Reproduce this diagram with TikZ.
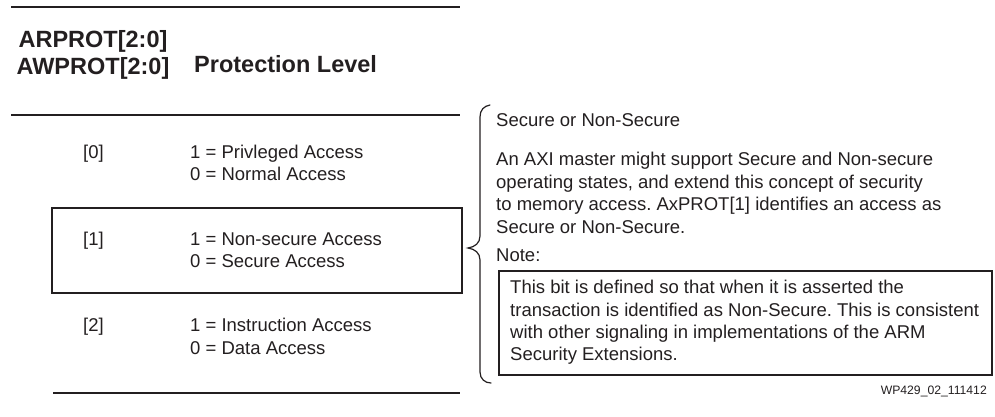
\documentclass[tikz,border=0pt]{standalone}
\usepackage{fontspec}
\setmainfont{Liberation Sans}
\definecolor{ink}{HTML}{231F20}
\begin{document}
\frenchspacing
\begin{tikzpicture}[x=1pt,y=-1pt,
  every node/.style={text=ink, inner sep=0pt},
  head/.style={font=\fontsize{23.5}{27}\selectfont\bfseries, anchor=base},
  headw/.style={font=\fontsize{23.5}{27}\selectfont\bfseries, anchor=base west},
  body/.style={font=\fontsize{18.5}{22}\selectfont, anchor=base west},
  figtag/.style={font=\fontsize{12.2}{14}\selectfont, anchor=base east},
  heavyrule/.style={draw=ink, line width=2.6pt},
  rowframe/.style={draw=ink, line width=2pt},
  noteframe/.style={draw=ink, line width=1.2pt},
  bracket/.style={draw=ink, line width=1.2pt, line cap=round}]
\useasboundingbox (0,0) rectangle (995,417);

% table rules
\coordinate (r1a) at (11,7);   \coordinate (r1b) at (460,7);
\coordinate (r2a) at (11,115); \coordinate (r2b) at (460,115);
\coordinate (r3a) at (53,393); \coordinate (r3b) at (460,393);
\draw[heavyrule] (r1a) -- (r1b);
\draw[heavyrule] (r2a) -- (r2b);
\draw[heavyrule] (r3a) -- (r3b);

% column headings
\node[head] (hr) at (93,48) {ARPROT[2:0]};
\node[head] (hw) at (93,75) {AWPROT[2:0]};
\node[headw] (hp) at (194,73) {Protection Level};

% frame around bit 1
\coordinate (fa) at (52,208); \coordinate (fb) at (462,293);
\draw[rowframe] (fa) rectangle (fb);

% bit rows
\node[body] (b0) at (83,158) {[0]};
\node[body] (b0a) at (190,158) {1 = Privleged Access};
\node[body] (b0b) at (190,180) {0 = Normal Access};
\node[body] (b1) at (83,245) {[1]};
\node[body] (b1a) at (190,245) {1 = Non-secure Access};
\node[body] (b1b) at (190,267) {0 = Secure Access};
\node[body] (b2) at (83,331) {[2]};
\node[body] (b2a) at (190,331) {1 = Instruction Access};
\node[body] (b2b) at (190,354) {0 = Data Access};

% curly bracket
\draw[bracket] (490,105) .. controls (484,106) and (480,110) .. (480,117)
  -- (480,236) .. controls (480,243) and (475,247) .. (468,248)
  .. controls (475,249) and (480,253) .. (480,260)
  -- (480,372) .. controls (480,379) and (485,383) .. (491,383);

% explanation
\node[body] (t0) at (496,127) {Secure or Non-Secure};
\node[body] (t1) at (496,165) {An AXI master might support Secure and Non-secure};
\node[body] (t2) at (496,188) {operating states, and extend this concept of security};
\node[body] (t3) at (496,210) {to memory access. AxPROT[1] identifies an access as};
\node[body] (t4) at (496,233) {Secure or Non-Secure.};
\node[body] (nt) at (496,261) {Note:};

% note box
\coordinate (na) at (499,271); \coordinate (nb) at (992,375);
\draw[noteframe] (na) rectangle (nb);
\node[body] (n1) at (510,293) {This bit is defined so that when it is asserted the};
\node[body] (n2) at (510,316) {transaction is identified as Non-Secure. This is consistent};
\node[body] (n3) at (510,338) {with other signaling in implementations of the ARM};
\node[body] (n4) at (510,360) {Security Extensions.};

% figure tag
\node[figtag] (tag) at (987,394) {WP429\_02\_111412};
\end{tikzpicture}
\end{document}
